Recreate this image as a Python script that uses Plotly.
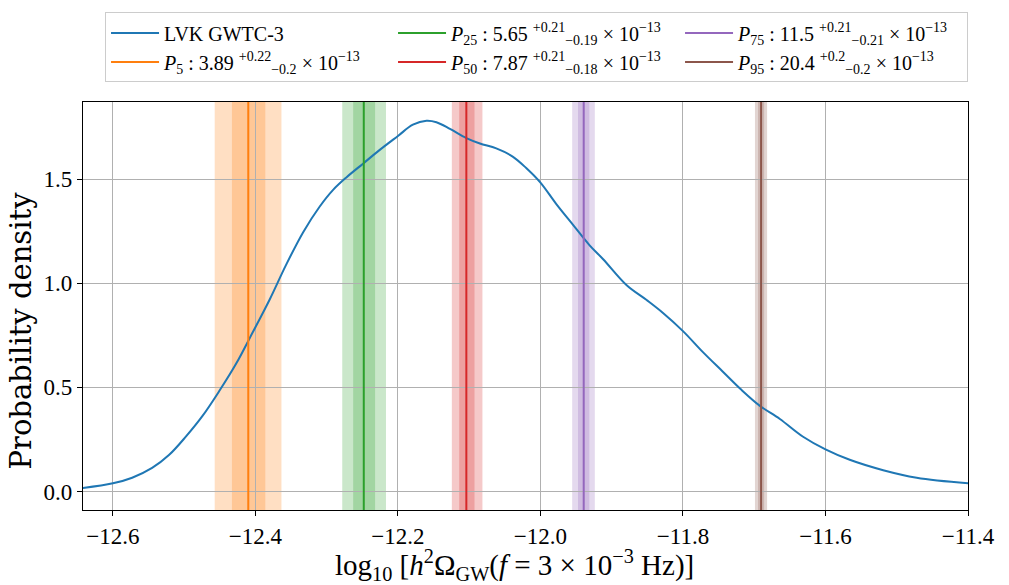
import numpy as np
import plotly.graph_objects as go

# KDE curve
kde_x = [-12.643, -12.600, -12.573, -12.545, -12.521, -12.498, -12.474, -12.451, -12.427,
         -12.404, -12.380, -12.357, -12.333, -12.310, -12.291, -12.272, -12.249, -12.226,
         -12.200, -12.179, -12.160, -12.146, -12.127, -12.104, -12.085, -12.062, -12.039,
         -12.020, -12.000, -11.978, -11.954, -11.931, -11.912, -11.879, -11.851, -11.828,
         -11.800, -11.772, -11.744, -11.718, -11.692, -11.664, -11.632, -11.600, -11.566,
         -11.519, -11.472, -11.400]
kde_y = [0.016, 0.039, 0.066, 0.113, 0.176, 0.262, 0.364, 0.481, 0.614,
         0.763, 0.922, 1.088, 1.245, 1.367, 1.448, 1.509, 1.574, 1.639,
         1.707, 1.761, 1.780, 1.773, 1.741, 1.697, 1.671, 1.647, 1.608,
         1.553, 1.483, 1.381, 1.279, 1.182, 1.115, 0.990, 0.919, 0.857,
         0.770, 0.669, 0.575, 0.488, 0.411, 0.348, 0.264, 0.202, 0.152,
         0.102, 0.066, 0.039]

# Percentiles (units of 1e-13)
pct_names = ["5", "25", "50", "75", "95"]
pct_vals = [3.89, 5.65, 7.87, 11.5, 20.4]
pct_up = [0.22, 0.21, 0.21, 0.21, 0.2]
pct_lo = [0.2, 0.19, 0.18, 0.21, 0.2]
pct_colors = ["#ff7f0e", "#2ca02c", "#d62728", "#9467bd", "#8c564b"]
pct_rank = [4, 2, 5, 3, 6]

x_ticks = [-12.6, -12.4, -12.2, -12.0, -11.8, -11.6, -11.4]
y_ticks = [0.0, 0.5, 1.0, 1.5]

FONT = "Liberation Serif"


def rgba(hexc, a):
    h = hexc.lstrip("#")
    r, g, b = int(h[0:2], 16), int(h[2:4], 16), int(h[4:6], 16)
    return f"rgba({r},{g},{b},{a})"


fig = go.Figure()

fig.add_trace(go.Scatter(
    x=kde_x, y=kde_y, mode="lines", name="LVK GWTC-3",
    line=dict(color="#1f77b4", width=2, shape="spline", smoothing=1.0),
    legendrank=1,
))

for name, v, up, lo, col, rk in zip(pct_names, pct_vals, pct_up, pct_lo, pct_colors, pct_rank):
    c = np.log10(v * 1e-13)
    in_lo, in_hi = np.log10((v - lo) * 1e-13), np.log10((v + up) * 1e-13)
    out_lo, out_hi = np.log10((v - 2 * lo) * 1e-13), np.log10((v + 2 * up) * 1e-13)
    fig.add_vrect(x0=out_lo, x1=out_hi, fillcolor=rgba(col, 0.25), line_width=0, layer="below")
    fig.add_vrect(x0=in_lo, x1=in_hi, fillcolor=rgba(col, 0.25), line_width=0, layer="below")
    label = (f"<i>P</i><sub>{name}</sub> : {v:g} "
             f"<sup>+{up:g}</sup><sub>−{lo:g}</sub> × 10<sup>−13</sup>")
    fig.add_trace(go.Scatter(
        x=[c, c], y=[0, 1], mode="lines", name=label, yaxis="y2",
        line=dict(color=col, width=2), legendrank=rk,
    ))

fig.add_annotation(
    text="Probability density", textangle=-90, showarrow=False,
    xref="paper", yref="paper", x=-0.069, y=0.44, xanchor="center", yanchor="middle",
    font=dict(family="DejaVu Serif", size=29, color="black"),
)

fig.update_layout(
    width=1009, height=585,
    margin=dict(l=83, r=41, t=97, b=71),
    paper_bgcolor="white", plot_bgcolor="white",
    font=dict(family=FONT, color="black", size=23),
    showlegend=True,
    legend=dict(
        orientation="h", x=0.0249, xanchor="left", y=1.048, yanchor="bottom",
        bgcolor="white", bordercolor="#cccccc", borderwidth=1,
        font=dict(family=FONT, size=20), entrywidth=224, itemwidth=48,
        tracegroupgap=0,
    ),
    xaxis=dict(
        range=[-12.642, -11.400], tickvals=x_ticks, tickformat=".1f",
        showgrid=True, gridcolor="#b0b0b0", gridwidth=1,
        showline=True, linecolor="black", linewidth=1.2, mirror=True,
        ticks="outside", ticklen=5, tickcolor="black",
        zeroline=False, tickfont=dict(size=23),
        title=dict(text="log<sub>10</sub> [<i>h</i><sup>2</sup>Ω<sub>GW</sub>(<i>f</i> = 3 × 10<sup>−3</sup> Hz)]&nbsp;&nbsp;&nbsp;",
                   font=dict(size=29), standoff=4),
    ),
    yaxis=dict(
        range=[-0.089, 1.870], tickvals=y_ticks, tickformat=".1f",
        showgrid=True, gridcolor="#b0b0b0", gridwidth=1,
        showline=True, linecolor="black", linewidth=1.2, mirror=True,
        ticks="outside", ticklen=5, tickcolor="black",
        zeroline=False, tickfont=dict(size=23),
    ),
    yaxis2=dict(range=[0, 1], overlaying="y", visible=False, fixedrange=True),
)

fig.write_html("out.html")
